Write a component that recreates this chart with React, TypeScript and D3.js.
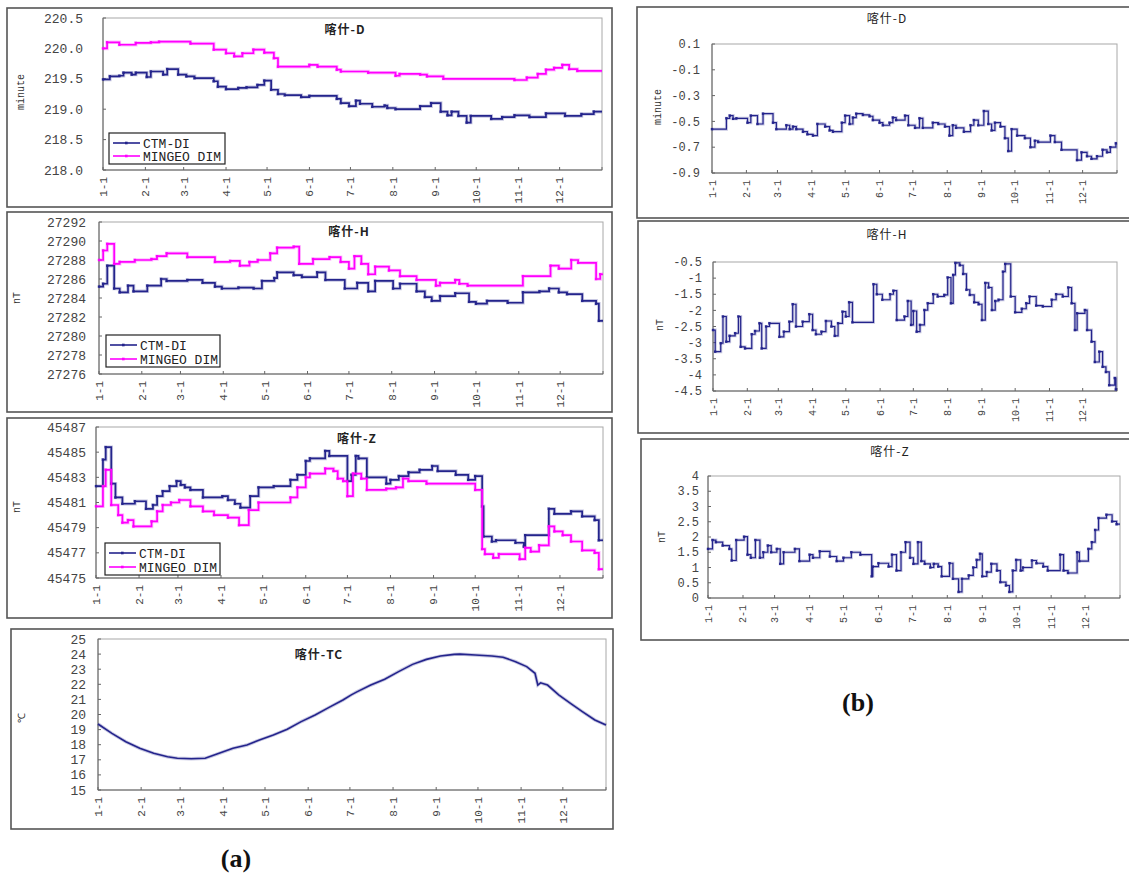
import React from "react";
import * as d3 from "d3";

type Pt = [number, number];

const MONTH_DAYS = [0, 31, 59, 90, 120, 151, 181, 212, 243, 273, 304, 334];
const MONTH_LABELS = ["1-1", "2-1", "3-1", "4-1", "5-1", "6-1", "7-1", "8-1", "9-1", "10-1", "11-1", "12-1"];
const YEAR_END = 365;

const D_TICKS = [218.0, 218.5, 219.0, 219.5, 220.0, 220.5];
const H_TICKS = [27276, 27278, 27280, 27282, 27284, 27286, 27288, 27290, 27292];
const Z_TICKS = [45475, 45477, 45479, 45481, 45483, 45485, 45487];
const TC_TICKS = [15, 16, 17, 18, 19, 20, 21, 22, 23, 24, 25];
const BD_TICKS = [0.1, -0.1, -0.3, -0.5, -0.7, -0.9];
const BH_TICKS = [-0.5, -1, -1.5, -2, -2.5, -3, -3.5, -4, -4.5];
const BZ_TICKS = [0, 0.5, 1, 1.5, 2, 2.5, 3, 3.5, 4];

const LEGEND_NAMES = ["CTM-DI", "MINGEO DIM"];

// (a) 喀什-D  [day, minute]
const D_CTM: Pt[] = [[0,219.49],[5,219.54],[12,219.55],[15,219.60],[21,219.57],[24,219.60],[32,219.53],[35,219.62],[44,219.57],[47,219.66],[55,219.57],[61,219.54],[67,219.51],[81,219.46],[84,219.37],[90,219.33],[99,219.35],[105,219.36],[113,219.40],[118,219.47],[123,219.32],[128,219.25],[133,219.23],[145,219.20],[151,219.22],[171,219.17],[174,219.10],[180,219.05],[185,219.14],[188,219.09],[197,219.04],[206,219.06],[208,219.02],[214,219.00],[232,219.05],[240,219.10],[247,218.96],[252,218.90],[255,218.96],[260,218.89],[266,218.78],[269,218.89],[284,218.84],[292,218.87],[301,218.90],[312,218.87],[324,218.93],[338,218.89],[350,218.92],[359,218.96]];
const D_MIN: Pt[] = [[0,220.00],[3,220.10],[12,220.06],[24,220.09],[35,220.10],[41,220.11],[64,220.08],[81,219.98],[90,219.92],[96,219.87],[102,219.92],[110,219.98],[118,219.93],[125,219.84],[128,219.70],[151,219.73],[157,219.70],[171,219.65],[174,219.62],[194,219.60],[214,219.55],[217,219.58],[232,219.57],[237,219.54],[249,219.50],[301,219.48],[310,219.52],[318,219.58],[324,219.65],[330,219.68],[336,219.73],[341,219.66],[347,219.63]];

// (a) 喀什-H  [day, nT]
const H_CTM: Pt[] = [[0,27285.2],[3,27285.5],[6,27287.4],[11,27285.0],[15,27284.6],[21,27285.3],[25,27284.7],[35,27285.3],[45,27286.0],[49,27285.8],[64,27285.9],[75,27285.6],[84,27285.2],[89,27285.0],[101,27285.1],[112,27285.0],[118,27285.8],[127,27286.1],[129,27286.7],[141,27286.4],[147,27286.2],[158,27286.7],[164,27285.9],[178,27285.0],[187,27285.6],[195,27284.7],[200,27285.8],[213,27285.0],[218,27285.5],[230,27284.7],[236,27284.1],[241,27283.7],[247,27284.2],[258,27284.5],[268,27283.6],[273,27283.4],[281,27283.7],[296,27283.5],[307,27284.6],[319,27284.7],[326,27285.0],[333,27284.6],[339,27284.4],[350,27283.7],[360,27283.4],[362,27281.6]];
const H_MIN: Pt[] = [[0,27288.0],[3,27289.0],[6,27289.7],[11,27287.6],[15,27287.8],[26,27288.0],[38,27288.1],[42,27288.4],[49,27288.7],[64,27288.3],[84,27287.8],[95,27287.9],[102,27287.4],[109,27287.8],[115,27288.0],[124,27288.7],[129,27289.3],[141,27289.4],[145,27287.6],[155,27288.1],[167,27288.3],[175,27287.8],[181,27287.1],[185,27288.4],[190,27287.6],[195,27286.5],[200,27287.3],[210,27286.9],[218,27286.3],[230,27285.9],[244,27285.3],[247,27285.6],[258,27285.9],[261,27285.5],[267,27285.3],[307,27286.3],[327,27287.4],[333,27287.1],[342,27288.0],[347,27287.7],[360,27286.0],[363,27286.5]];

// (a) 喀什-Z  [day, nT]
const Z_CTM: Pt[] = [[0,45482.3],[5,45484.4],[7,45485.4],[11,45482.5],[14,45481.4],[19,45480.9],[28,45481.1],[36,45480.5],[41,45480.8],[44,45481.5],[48,45481.9],[53,45482.3],[58,45482.7],[61,45482.4],[64,45482.2],[68,45482.0],[77,45481.4],[91,45481.5],[95,45481.2],[100,45480.9],[104,45480.6],[111,45481.5],[117,45482.2],[128,45482.3],[140,45482.8],[145,45483.2],[151,45484.3],[154,45484.5],[165,45485.1],[168,45484.7],[181,45482.7],[184,45483.2],[187,45484.7],[189,45484.5],[195,45483.0],[209,45482.5],[212,45482.8],[218,45483.1],[225,45483.4],[233,45483.6],[242,45483.9],[246,45483.5],[259,45483.2],[268,45482.8],[273,45483.1],[278,45480.7],[279,45478.3],[285,45477.9],[288,45478.0],[302,45477.8],[308,45477.5],[309,45478.4],[326,45480.5],[330,45480.1],[342,45480.3],[350,45479.9],[359,45479.6],[362,45478.0]];
const Z_MIN: Pt[] = [[0,45480.7],[5,45482.3],[7,45483.6],[11,45480.8],[16,45480.0],[19,45479.4],[23,45479.6],[27,45479.1],[40,45479.5],[44,45480.3],[48,45480.8],[54,45481.0],[60,45481.2],[68,45480.7],[77,45480.3],[85,45480.0],[95,45479.8],[103,45479.2],[110,45480.4],[117,45481.0],[140,45481.4],[145,45482.2],[151,45483.0],[154,45483.3],[165,45483.7],[171,45483.5],[174,45482.9],[178,45482.7],[181,45481.5],[185,45483.3],[191,45482.9],[195,45482.0],[209,45482.1],[216,45482.2],[221,45482.9],[225,45482.7],[238,45482.5],[273,45482.0],[278,45477.3],[280,45476.9],[286,45476.6],[290,45476.9],[305,45476.5],[309,45477.4],[313,45477.1],[319,45477.6],[326,45479.1],[330,45478.7],[336,45478.4],[342,45477.9],[350,45477.2],[359,45477.0],[362,45475.7]];

// (a) 喀什-TC  [day, °C]
const TC: Pt[] = [[0,19.37],[10,18.75],[20,18.2],[30,17.76],[40,17.43],[50,17.2],[57,17.1],[67,17.07],[77,17.1],[87,17.43],[97,17.76],[107,17.98],[116,18.31],[126,18.64],[136,19.02],[146,19.53],[156,19.97],[166,20.47],[176,20.96],[182,21.3],[186,21.5],[196,21.95],[206,22.33],[216,22.84],[226,23.32],[236,23.65],[246,23.87],[256,23.98],[260,24.0],[271,23.94],[283,23.87],[291,23.79],[300,23.5],[308,23.17],[314,22.73],[316,21.95],[318,22.1],[323,21.95],[331,21.3],[340,20.7],[348,20.19],[357,19.64],[365,19.3]];

// (b) differences
const B_D: Pt[] = [[0,-0.56],[13,-0.476],[16,-0.455],[19,-0.48],[22,-0.476],[32,-0.51],[35,-0.455],[41,-0.52],[46,-0.44],[55,-0.51],[58,-0.56],[67,-0.53],[70,-0.56],[73,-0.54],[76,-0.56],[82,-0.58],[86,-0.6],[91,-0.61],[95,-0.52],[102,-0.54],[106,-0.57],[109,-0.58],[117,-0.51],[120,-0.455],[124,-0.52],[127,-0.47],[130,-0.44],[136,-0.45],[142,-0.46],[145,-0.49],[151,-0.51],[154,-0.53],[160,-0.51],[163,-0.47],[166,-0.49],[174,-0.455],[177,-0.53],[183,-0.55],[187,-0.476],[190,-0.55],[199,-0.51],[204,-0.52],[210,-0.54],[214,-0.61],[217,-0.53],[220,-0.55],[227,-0.58],[233,-0.53],[236,-0.49],[240,-0.53],[245,-0.42],[249,-0.52],[252,-0.57],[255,-0.51],[260,-0.54],[264,-0.63],[267,-0.73],[270,-0.56],[275,-0.61],[282,-0.63],[287,-0.70],[291,-0.65],[294,-0.66],[305,-0.61],[309,-0.66],[315,-0.72],[329,-0.8],[333,-0.74],[338,-0.77],[342,-0.79],[347,-0.77],[352,-0.72],[356,-0.74],[359,-0.70],[364,-0.67]];
const B_H: Pt[] = [[0,-2.61],[2,-3.28],[7,-3.02],[9,-2.19],[12,-2.97],[15,-2.79],[20,-2.71],[23,-2.19],[25,-3.13],[29,-3.18],[35,-2.74],[38,-2.64],[42,-2.40],[44,-3.18],[48,-2.5],[51,-2.40],[60,-2.82],[64,-2.66],[69,-2.35],[72,-1.81],[75,-2.50],[81,-2.35],[87,-2.12],[90,-2.61],[93,-2.74],[98,-2.66],[102,-2.33],[107,-2.5],[110,-2.79],[113,-2.40],[117,-2.04],[120,-2.19],[123,-1.75],[126,-2.37],[145,-1.19],[148,-1.5],[153,-1.67],[160,-1.5],[163,-1.39],[166,-2.3],[173,-2.19],[176,-1.71],[179,-2.45],[181,-2.02],[184,-2.66],[187,-2.45],[191,-1.99],[194,-1.78],[199,-1.5],[203,-1.57],[209,-1.52],[212,-0.98],[215,-1.78],[217,-0.9],[219,-0.53],[223,-0.6],[226,-0.87],[229,-1.36],[232,-1.52],[236,-1.75],[240,-1.81],[243,-2.3],[246,-1.15],[249,-1.29],[252,-1.99],[255,-1.71],[258,-1.67],[262,-0.8],[264,-0.56],[269,-1.57],[273,-2.06],[279,-1.95],[283,-1.78],[286,-1.57],[292,-1.85],[298,-1.88],[306,-1.67],[310,-1.5],[316,-1.57],[321,-1.29],[324,-1.78],[327,-2.61],[329,-2.09],[336,-1.99],[338,-2.61],[342,-2.97],[345,-3.6],[349,-3.28],[352,-3.75],[355,-3.91],[358,-4.32],[363,-4.1],[364,-4.45]];
const B_Z: Pt[] = [[0,1.61],[4,1.90],[7,1.83],[13,1.72],[19,1.61],[21,1.23],[25,1.90],[32,2.01],[35,1.42],[38,1.32],[42,1.90],[46,1.32],[49,1.5],[53,1.72],[56,1.5],[61,1.61],[64,1.12],[67,1.5],[77,1.61],[81,1.21],[90,1.42],[93,1.32],[99,1.53],[108,1.36],[114,1.21],[120,1.32],[127,1.5],[135,1.42],[145,0.71],[146,1.03],[151,1.14],[160,1.03],[163,1.42],[167,0.9],[171,1.5],[175,1.83],[179,1.32],[182,1.12],[186,1.83],[189,1.21],[192,1.12],[197,1.0],[200,1.12],[204,1.03],[207,0.71],[214,1.14],[217,0.63],[222,0.2],[225,0.63],[231,0.74],[235,1.0],[238,1.25],[241,1.45],[243,0.71],[247,0.85],[251,1.12],[256,0.9],[259,0.52],[264,0.41],[267,0.2],[270,0.9],[273,1.25],[277,0.9],[279,1.0],[287,1.23],[291,1.14],[297,1.03],[301,0.9],[312,1.42],[315,0.9],[319,0.82],[327,1.5],[329,1.21],[337,1.61],[340,1.83],[343,2.23],[346,2.62],[353,2.73],[358,2.51],[362,2.42]];

const NAVY = "#24248c";
const MAGENTA = "#ff00ff";
const MONO = "'Liberation Mono', 'DejaVu Sans Mono', monospace";
const CJK = "'Noto Sans CJK SC', 'Noto Sans', sans-serif";

type Series = { data: Pt[]; color: string };
type Cfg = {
  box: [number, number, number, number];
  plot: [number, number, number, number];
  domain: [number, number];
  ticks: number[];
  fmt: (v: number) => string;
  labelRight: number;
  labelSize: number;
  xLabelSize: number;
  title: string;
  titleX: number;
  titleY: number;
  titleBold: boolean;
  ylabel: string;
  ylabelX: number;
  ylabelY: number;
  series: Series[];
  step: boolean;
  lineWidth: number;
  legend?: { x: number; y: number; w: number; h: number };
};

function Panel({ cfg }: { cfg: Cfg }) {
  const [px0, py0, px1, py1] = cfg.plot;
  const x = d3.scaleLinear().domain([0, YEAR_END]).range([px0, px1]);
  const y = d3.scaleLinear().domain(cfg.domain).range([py1, py0]);
  const line = d3
    .line<Pt>()
    .x((d) => x(d[0]))
    .y((d) => y(d[1]))
    .curve(cfg.step ? d3.curveStepAfter : d3.curveLinear);
  const [bx0, by0, bx1, by1] = cfg.box;
  return (
    <g>
      <rect x={bx0} y={by0} width={bx1 - bx0} height={by1 - by0} fill="#fff" stroke="#555" strokeWidth={1.6} />
      <rect x={px0} y={py0} width={px1 - px0} height={py1 - py0} fill="#fff" stroke="#a8a8a8" strokeWidth={1} />
      <line x1={px0} x2={px0} y1={py0} y2={py1} stroke="#666" />
      <line x1={px0} x2={px1} y1={py1} y2={py1} stroke="#666" />
      {cfg.ticks.map((t) => (
        <g key={"y" + t}>
          <line x1={px0} x2={px0 + 3} y1={y(t)} y2={y(t)} stroke="#666" />
          <text
            x={cfg.labelRight}
            y={y(t)}
            dy="0.35em"
            textAnchor="end"
            fontFamily={MONO}
            fontSize={cfg.labelSize}
            fill="#444"
          >
            {cfg.fmt(t)}
          </text>
        </g>
      ))}
      {MONTH_DAYS.map((d, i) => (
        <g key={"x" + d}>
          <line x1={x(d)} x2={x(d)} y1={py1} y2={py1 - 3} stroke="#666" />
          <text
            transform={`translate(${x(d)},${py1 + 7}) rotate(-90)`}
            dy="0.35em"
            textAnchor="end"
            fontFamily={MONO}
            fontSize={cfg.xLabelSize}
            fill="#444"
          >
            {MONTH_LABELS[i]}
          </text>
        </g>
      ))}
      <line x1={x(YEAR_END)} x2={x(YEAR_END)} y1={py1} y2={py1 - 3} stroke="#666" />
      {cfg.series.map((s, i) => {
        const pts: Pt[] = cfg.step ? [...s.data, [YEAR_END, s.data[s.data.length - 1][1]]] : s.data;
        const dpath = line(pts) || "";
        return (
          <g key={"s" + i}>
            <path d={dpath} fill="none" stroke={s.color} strokeOpacity={0.25} strokeWidth={cfg.lineWidth + 1.8} />
            <path d={dpath} fill="none" stroke={s.color} strokeWidth={cfg.lineWidth} />
            {cfg.step &&
              s.data.map((d, j) => (
                <rect key={j} x={x(d[0]) - 1.2} y={y(d[1]) - 1.2} width={2.4} height={2.4} fill={s.color} />
              ))}
          </g>
        );
      })}
      <text
        x={cfg.titleX}
        y={cfg.titleY}
        dy="0.35em"
        textAnchor="middle"
        fontFamily={CJK}
        fontWeight={cfg.titleBold ? 700 : 400}
        fontSize={12}
        letterSpacing={1}
        fill="#222"
      >
        {cfg.title}
      </text>
      <text
        transform={`translate(${cfg.ylabelX},${cfg.ylabelY}) rotate(-90)`}
        dy="0.35em"
        textAnchor="middle"
        fontFamily={MONO}
        fontSize={10}
        fill="#333"
      >
        {cfg.ylabel}
      </text>
      {cfg.legend && (
        <g>
          <rect
            x={cfg.legend.x}
            y={cfg.legend.y}
            width={cfg.legend.w}
            height={cfg.legend.h}
            fill="#fff"
            stroke="#222"
            strokeWidth={1.2}
          />
          {cfg.series.map((s, i) => {
            const ly = cfg.legend!.y + 10 + i * (cfg.legend!.h - 18);
            const lx = cfg.legend!.x;
            return (
              <g key={"l" + i}>
                <line x1={lx + 4} x2={lx + 31} y1={ly} y2={ly} stroke={s.color} strokeWidth={1.6} />
                <rect x={lx + 16} y={ly - 1.3} width={2.6} height={2.6} fill={s.color} />
                <text x={lx + 34} y={ly} dy="0.35em" fontFamily={MONO} fontSize={13} fill="#222">
                  {LEGEND_NAMES[i]}
                </text>
              </g>
            );
          })}
        </g>
      )}
    </g>
  );
}

const f1 = (v: number) => v.toFixed(1);
const f0 = (v: number) => String(v);

const PANELS: Cfg[] = [
  {
    box: [7, 8, 612, 207], plot: [103, 18, 602, 170], domain: [218, 220.5], ticks: D_TICKS, fmt: f1,
    labelRight: 83, labelSize: 13, xLabelSize: 11, title: "喀什-D", titleX: 345, titleY: 30, titleBold: true,
    ylabel: "minute", ylabelX: 20, ylabelY: 92, step: true, lineWidth: 1.7,
    series: [{ data: D_CTM, color: NAVY }, { data: D_MIN, color: MAGENTA }],
    legend: { x: 109, y: 133, w: 116, h: 31 },
  },
  {
    box: [7, 212, 612, 412], plot: [99, 222, 603, 374], domain: [27276, 27292], ticks: H_TICKS, fmt: f0,
    labelRight: 86, labelSize: 13, xLabelSize: 11, title: "喀什-H", titleX: 349, titleY: 232, titleBold: true,
    ylabel: "nT", ylabelX: 16, ylabelY: 298, step: true, lineWidth: 1.7,
    series: [{ data: H_CTM, color: NAVY }, { data: H_MIN, color: MAGENTA }],
    legend: { x: 106, y: 335, w: 114, h: 32 },
  },
  {
    box: [7, 418, 612, 618], plot: [96, 427, 603, 578], domain: [45475, 45487], ticks: Z_TICKS, fmt: f0,
    labelRight: 86, labelSize: 13, xLabelSize: 11, title: "喀什-Z", titleX: 357, titleY: 439, titleBold: true,
    ylabel: "nT", ylabelX: 16, ylabelY: 507, step: true, lineWidth: 1.7,
    series: [{ data: Z_CTM, color: NAVY }, { data: Z_MIN, color: MAGENTA }],
    legend: { x: 105, y: 543, w: 115, h: 32 },
  },
  {
    box: [11, 629, 613, 829], plot: [98, 639, 606, 790], domain: [15, 25], ticks: TC_TICKS, fmt: f0,
    labelRight: 86, labelSize: 13, xLabelSize: 11, title: "喀什-TC", titleX: 319, titleY: 655, titleBold: true,
    ylabel: "℃", ylabelX: 21, ylabelY: 718, step: false, lineWidth: 1.6,
    series: [{ data: TC, color: NAVY }],
  },
  {
    box: [637, 7, 1140, 218], plot: [712, 44, 1117, 173], domain: [-0.9, 0.1], ticks: BD_TICKS, fmt: f1,
    labelRight: 700, labelSize: 12, xLabelSize: 10, title: "喀什-D", titleX: 887, titleY: 19, titleBold: false,
    ylabel: "minute", ylabelX: 657, ylabelY: 107, step: true, lineWidth: 1.2,
    series: [{ data: B_D, color: NAVY }],
  },
  {
    box: [638, 221, 1140, 433], plot: [713, 262, 1117, 391], domain: [-4.5, -0.5], ticks: BH_TICKS, fmt: f0,
    labelRight: 702, labelSize: 12, xLabelSize: 10, title: "喀什-H", titleX: 887, titleY: 235, titleBold: false,
    ylabel: "nT", ylabelX: 659, ylabelY: 325, step: true, lineWidth: 1.2,
    series: [{ data: B_H, color: NAVY }],
  },
  {
    box: [641, 439, 1140, 640], plot: [708, 476, 1120, 598], domain: [0, 4], ticks: BZ_TICKS, fmt: f0,
    labelRight: 699, labelSize: 12, xLabelSize: 10, title: "喀什-Z", titleX: 890, titleY: 452, titleBold: false,
    ylabel: "nT", ylabelX: 661, ylabelY: 537, step: true, lineWidth: 1.2,
    series: [{ data: B_Z, color: NAVY }],
  },
];

export default function App() {
  return (
    <svg
      width={1129}
      height={875}
      viewBox="0 0 1129 875"
      style={{ position: "absolute", left: 0, top: 0, background: "#fff" }}
    >
      <rect x={0} y={0} width={1129} height={875} fill="#fff" />
      {PANELS.map((p, i) => (
        <Panel key={i} cfg={p} />
      ))}
      <text x={236} y={858} dy="0.35em" textAnchor="middle" fontFamily="'Liberation Serif', serif" fontWeight={700} fontSize={26} fill="#111">
        (a)
      </text>
      <text x={858} y={702} dy="0.35em" textAnchor="middle" fontFamily="'Liberation Serif', serif" fontWeight={700} fontSize={26} fill="#111">
        (b)
      </text>
    </svg>
  );
}
